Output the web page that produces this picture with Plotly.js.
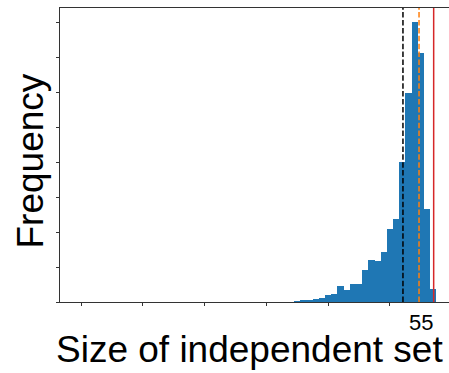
<!DOCTYPE html>
<html>
<head>
<meta charset="utf-8">
<script src="https://cdn.plot.ly/plotly-3.0.1.min.js"></script>
<style>html,body{margin:0;padding:0;background:#fff;}#chart{width:449px;height:373px;}</style>
</head>
<body>
<div id="chart"></div>
<script>
// Histogram bins (size of independent set) and frequencies
const binCenters = [35,36,37,38,39,40,41,42,43,44,45,46,47,48,49,50,51,52,53,54,55,56,57];
const frequencies = [2,5,5,9,12,19,23,47,34,51,51,92,121,118,143,208,237,400,600,803,714,266,37];
// Reference lines
const meanValue = 52.1;      // black dashed
const otherValue = 54.7;     // orange dashed
const optimumValue = 57.07;  // red solid
// Ticks
const xTickVals = [0,10,20,30,40,50];
const yTickVals = [0,100,200,300,400,500,600,700,800];
const labelValue = 55;
const xTitle = 'Size of independent set';
const yTitle = 'Frequency';

const FONT = 'Liberation Sans, Arial, sans-serif';

const trace = {
  type: 'bar',
  x: binCenters,
  y: frequencies,
  width: 1,
  marker: {color: '#1f77b4', line: {width: 0}},
  hoverinfo: 'none'
};

function vline(x, color, dash) {
  return {type: 'line', xref: 'x', yref: 'paper', x0: x, x1: x, y0: 0, y1: 1,
          line: {color: color, width: 1.5, dash: dash}, layer: 'above'};
}

const layout = {
  width: 449, height: 373,
  margin: {l: 60, r: 0, t: 8, b: 71, pad: 0},
  paper_bgcolor: '#fff', plot_bgcolor: '#fff',
  showlegend: false,
  bargap: 0,
  font: {family: FONT, color: '#000'},
  xaxis: {
    range: [-3.4, 59.55],
    tickmode: 'array', tickvals: xTickVals, ticktext: xTickVals.map(() => ''),
    ticks: 'outside', ticklen: 3.5, tickwidth: 0.8, tickcolor: '#000',
    showline: true, linecolor: '#000', linewidth: 0.8, mirror: true,
    showgrid: false, zeroline: false
  },
  yaxis: {
    range: [0, 842],
    tickmode: 'array', tickvals: yTickVals, ticktext: yTickVals.map(() => ''),
    ticks: 'outside', ticklen: 3.5, tickwidth: 0.8, tickcolor: '#000',
    showline: true, linecolor: '#000', linewidth: 0.8, mirror: false,
    showgrid: false, zeroline: false
  },
  shapes: [
    vline(meanValue, '#000', '5.5px,2.4px'),
    vline(otherValue, '#ff7f0e', '5.5px,2.4px'),
    vline(optimumValue, '#d62728', 'solid')
  ],
  annotations: [
    {
      x: labelValue, y: 0, xref: 'x', yref: 'paper', yshift: -20.5,
      text: String(labelValue), showarrow: false, xanchor: 'center', yanchor: 'middle',
      font: {size: 22, family: FONT, color: '#000'}
    },
    {
      x: 0.486, y: -0.163, xref: 'paper', yref: 'paper',
      text: xTitle, showarrow: false, xanchor: 'center', yanchor: 'middle',
      font: {size: 37, family: FONT, color: '#000'}
    },
    {
      x: -0.077, y: 0.478, xref: 'paper', yref: 'paper', textangle: -90,
      text: yTitle, showarrow: false, xanchor: 'center', yanchor: 'middle',
      font: {size: 37, family: FONT, color: '#000'}
    }
  ]
};

Plotly.newPlot('chart', [trace], layout, {displayModeBar: false, staticPlot: true});
</script>
</body>
</html>
